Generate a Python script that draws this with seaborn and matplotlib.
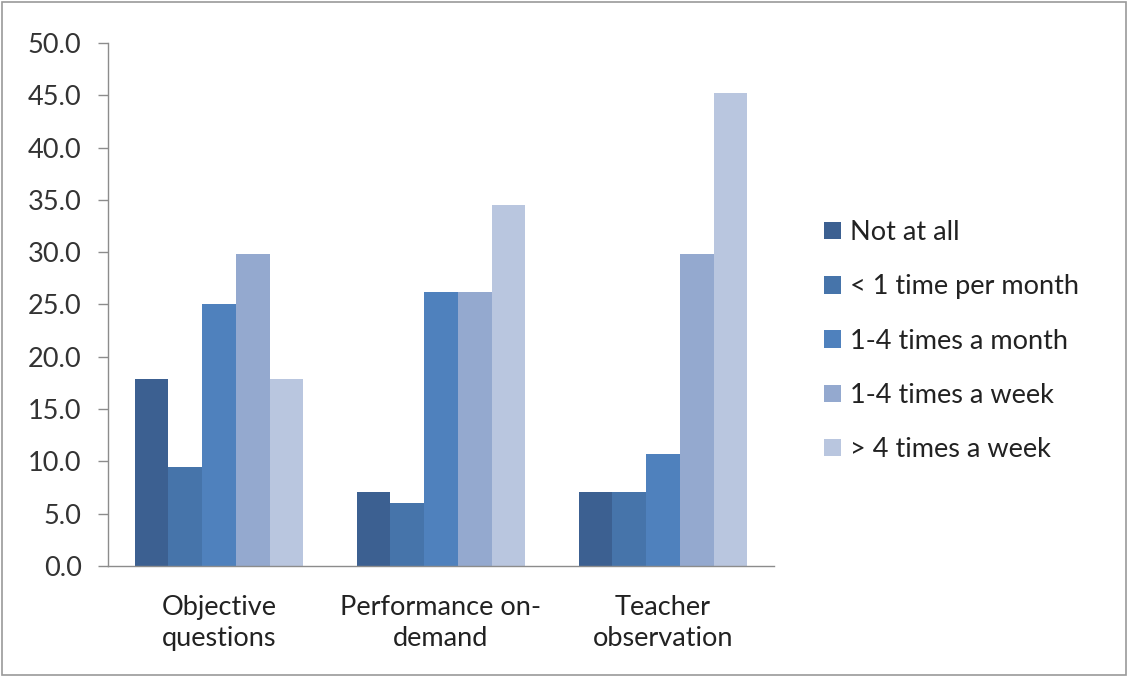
import matplotlib
matplotlib.use("Agg")
import matplotlib.pyplot as plt
import matplotlib.patches as mpatches
import pandas as pd
import seaborn as sns

# Share of respondents (%) by assessment type and frequency of use
categories = ["Objective\nquestions", "Performance on-\ndemand", "Teacher\nobservation"]
frequencies = ["Not at all", "< 1 time per month", "1-4 times a month",
               "1-4 times a week", "> 4 times a week"]
not_at_all = [17.9, 7.1, 7.1]
less_than_monthly = [9.5, 6.0, 7.1]
monthly = [25.0, 26.2, 10.7]
weekly = [29.8, 26.2, 29.8]
more_than_weekly = [17.9, 34.5, 45.2]
y_ticks = [0, 5, 10, 15, 20, 25, 30, 35, 40, 45, 50]

colors = ["#3C6091", "#4674AA", "#4F81BD", "#94A9CF", "#B9C6DF"]

series = [not_at_all, less_than_monthly, monthly, weekly, more_than_weekly]
rows = []
for freq, vals in zip(frequencies, series):
    for cat, v in zip(categories, vals):
        rows.append({"category": cat, "frequency": freq, "value": v})
df = pd.DataFrame(rows)

sns.set_style("white")
plt.rcParams["font.family"] = ["Lato", "DejaVu Sans"]

FS = 19.5

fig = plt.figure(figsize=(11.28, 6.77), dpi=100)
ax = fig.add_axes([0.0957, 0.164, 0.5905, 0.7725])

sns.barplot(data=df, x="category", y="value", hue="frequency",
            hue_order=frequencies, order=categories, palette=colors,
            saturation=1, width=0.76, gap=0, errorbar=None, ax=ax,
            legend=False, linewidth=0, edgecolor="none")

ax.set_xlim(-0.5, 2.5)
ax.set_ylim(0, 50)
ax.set_yticks(y_ticks)
ax.set_yticklabels([f"{t:.1f}" for t in y_ticks], fontsize=FS, color="#333333")
ax.set_xticks(range(len(categories)))
ax.set_xticklabels(categories, fontsize=FS, color="#222222", linespacing=1.3)
ax.set_xticks([-0.5, 0.5, 1.5, 2.5], minor=True)
ax.tick_params(axis="x", which="major", length=0, pad=21)
ax.tick_params(axis="x", which="minor", length=7, width=1, color="#8c8c8c",
               direction="out")
ax.tick_params(axis="y", length=7, width=1, color="#8c8c8c", direction="out",
               pad=12, left=True)
ax.set_xlabel("")
ax.set_ylabel("")

for side in ["top", "right"]:
    ax.spines[side].set_visible(False)
for side in ["left", "bottom"]:
    ax.spines[side].set_color("#8c8c8c")
    ax.spines[side].set_linewidth(1)

handles = [mpatches.Patch(facecolor=c, edgecolor="none", label=f)
           for c, f in zip(colors, frequencies)]
fig.legend(handles=handles, loc="center left", bbox_to_anchor=(0.709, 0.496),
           frameon=False, fontsize=FS, handlelength=0.62, handleheight=0.62,
           handletextpad=0.32, labelspacing=1.08, labelcolor="#222222")

# thin frame around the whole chart area
fig.patches.append(mpatches.Rectangle((0.002, 0.003), 0.996, 0.994,
                                      transform=fig.transFigure, fill=False,
                                      edgecolor="#9a9a9a", linewidth=1.2))

fig.savefig("out.png", dpi=100, facecolor="white")
